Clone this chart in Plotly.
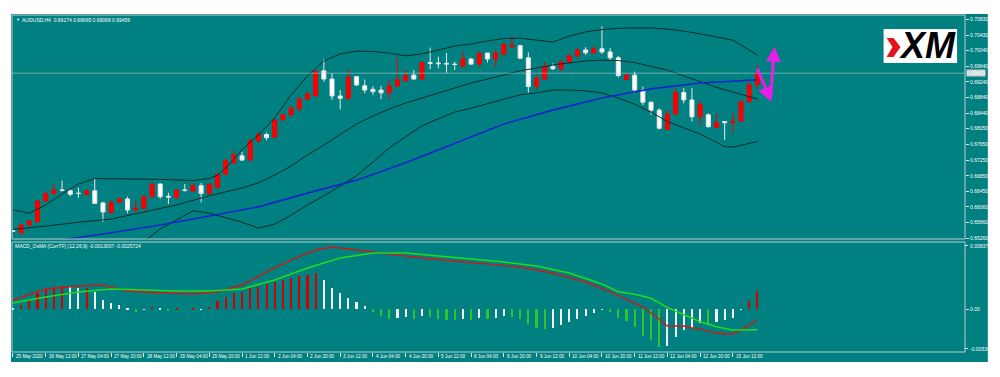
import plotly.graph_objects as go

# ---------------- data ----------------
time_labels = ["25 May 2020", "26 May 12:00", "27 May 04:00", "27 May 20:00", "28 May 12:00",
               "29 May 04:00", "29 May 20:00", "1 Jun 12:00", "2 Jun 04:00", "2 Jun 20:00",
               "3 Jun 12:00", "4 Jun 04:00", "4 Jun 20:00", "5 Jun 12:00", "8 Jun 04:00",
               "8 Jun 20:00", "9 Jun 12:00", "10 Jun 04:00", "10 Jun 20:00", "11 Jun 12:00",
               "12 Jun 04:00", "12 Jun 20:00", "15 Jun 12:00"]
label_bars = [0, 4, 8, 12, 16, 20, 24, 28, 32, 36, 40, 44, 48, 52, 56, 60, 64, 68, 72, 76, 80, 84, 88]

bars = list(range(92))
opens = [0.6545, 0.6540, 0.6560, 0.6568, 0.6621, 0.6640, 0.6649, 0.6647, 0.6641, 0.6638,
         0.6647, 0.6616, 0.6591, 0.6618, 0.6626, 0.6598, 0.6602, 0.6632, 0.6664, 0.6633,
         0.6630, 0.6649, 0.6646, 0.6660, 0.6640, 0.6655, 0.6689, 0.6718, 0.6736, 0.6725,
         0.6774, 0.6790, 0.6783, 0.6827, 0.6840, 0.6855, 0.6880, 0.6888, 0.6952, 0.6931,
         0.6888, 0.6882, 0.6937, 0.6914, 0.6905, 0.6903, 0.6896, 0.6913, 0.6927, 0.6941,
         0.6931, 0.6973, 0.6972, 0.6971, 0.6969, 0.6963, 0.6982, 0.6969, 0.6997, 0.6982,
         0.6994, 0.7013, 0.7016, 0.6985, 0.6913, 0.6931, 0.6963, 0.6957, 0.6975, 0.6990,
         0.7005, 0.6998, 0.7008, 0.7000, 0.6985, 0.6930, 0.6941, 0.6903, 0.6872, 0.6852,
         0.6803, 0.6842, 0.6897, 0.6878, 0.6835, 0.6840, 0.6808, 0.6823, 0.6820, 0.6824,
         0.6874, 0.69174]
highs = [0.6547, 0.6562, 0.6573, 0.6622, 0.6645, 0.6664, 0.6673, 0.6651, 0.6655, 0.6651,
         0.6679, 0.6619, 0.6623, 0.6629, 0.6632, 0.6623, 0.6636, 0.6666, 0.6666, 0.6642,
         0.6651, 0.6664, 0.6666, 0.6667, 0.6666, 0.6691, 0.6730, 0.6751, 0.6746, 0.6780,
         0.6797, 0.6795, 0.6830, 0.6845, 0.6865, 0.6886, 0.6899, 0.6954, 0.6981, 0.6946,
         0.6903, 0.6956, 0.6939, 0.6930, 0.6913, 0.6914, 0.6930, 0.6986, 0.6956, 0.6954,
         0.6975, 0.7011, 0.6988, 0.6997, 0.6975, 0.7001, 0.6985, 0.6999, 0.6998, 0.7005,
         0.7026, 0.7041, 0.7018, 0.6999, 0.6946, 0.6975, 0.6971, 0.6980, 0.6995, 0.7010,
         0.7012, 0.7015, 0.7065, 0.7010, 0.6990, 0.6945, 0.6950, 0.6912, 0.6875, 0.6857,
         0.6852, 0.6909, 0.6908, 0.6908, 0.6874, 0.6844, 0.6844, 0.6823, 0.6844, 0.6875,
         0.6924, 0.69665]
lows = [0.6543, 0.6537, 0.6557, 0.6566, 0.6618, 0.6638, 0.6645, 0.6633, 0.6629, 0.6636,
        0.6613, 0.6568, 0.6589, 0.6615, 0.6590, 0.6597, 0.6600, 0.6630, 0.6626, 0.6613,
        0.6627, 0.6645, 0.6645, 0.6617, 0.6637, 0.6653, 0.6687, 0.6715, 0.6723, 0.6722,
        0.6768, 0.6775, 0.6780, 0.6824, 0.6835, 0.6848, 0.6878, 0.6886, 0.6924, 0.6878,
        0.6854, 0.6878, 0.6913, 0.6895, 0.6891, 0.6880, 0.6880, 0.6912, 0.6924, 0.6929,
        0.6930, 0.6956, 0.6958, 0.6947, 0.6954, 0.6961, 0.6967, 0.6963, 0.6973, 0.6961,
        0.6992, 0.7013, 0.6982, 0.6896, 0.6903, 0.6929, 0.6954, 0.6950, 0.6970, 0.6985,
        0.6992, 0.6995, 0.6995, 0.6978, 0.6935, 0.6928, 0.6895, 0.6865, 0.6840, 0.6803,
        0.6802, 0.6840, 0.6869, 0.6823, 0.6812, 0.6807, 0.6807, 0.6776, 0.6793, 0.6823,
        0.6869, 0.69068]
closes = [0.6544, 0.6560, 0.6570, 0.6621, 0.6640, 0.6649, 0.6648, 0.6638, 0.6640, 0.6647,
          0.6615, 0.6593, 0.6617, 0.6626, 0.6598, 0.6603, 0.6632, 0.6664, 0.6632, 0.6631,
          0.6649, 0.6648, 0.6660, 0.6640, 0.6664, 0.6689, 0.6723, 0.6738, 0.6725, 0.6775,
          0.6790, 0.6782, 0.6826, 0.6840, 0.6857, 0.6880, 0.6893, 0.6950, 0.6931, 0.6888,
          0.6882, 0.6936, 0.6916, 0.6903, 0.6899, 0.6896, 0.6913, 0.6929, 0.6940, 0.6931,
          0.6973, 0.6971, 0.6970, 0.6969, 0.6968, 0.6982, 0.6969, 0.6997, 0.6982, 0.6997,
          0.7019, 0.7018, 0.6984, 0.6912, 0.6933, 0.6963, 0.6957, 0.6975, 0.6990, 0.7005,
          0.6998, 0.7008, 0.7000, 0.6985, 0.6940, 0.6941, 0.6903, 0.6872, 0.6852, 0.6806,
          0.6842, 0.6897, 0.6878, 0.6835, 0.6867, 0.6810, 0.6820, 0.6820, 0.6824, 0.6874,
          0.6916, 0.69459]

# Bollinger bands and moving average read at sample bars
upper_x = [0, 2, 4, 6, 8, 10, 14, 18, 22, 24, 25, 26, 28, 30, 32, 34, 36, 38, 40, 42, 44, 46, 48,
           50, 52, 54, 56, 58, 60, 62, 64, 66, 68, 70, 72, 74, 76, 78, 80, 82, 84, 86, 88, 90, 91]
upper = [0.6598, 0.6590, 0.6611, 0.6639, 0.6664, 0.6678, 0.6677, 0.6676, 0.6673, 0.6678, 0.6687,
         0.6705, 0.6751, 0.6789, 0.6832, 0.6891, 0.6939, 0.6977, 0.6995, 0.7002, 0.7001, 0.6997,
         0.6990, 0.6995, 0.7005, 0.7015, 0.7020, 0.7028, 0.7034, 0.7035, 0.7030, 0.7025, 0.7040,
         0.7051, 0.7057, 0.7060, 0.7061, 0.7061, 0.7058, 0.7053, 0.7046, 0.7038, 0.7030, 0.7005,
         0.6992]
mid_x = [0, 4, 8, 12, 16, 20, 24, 28, 30, 32, 34, 36, 38, 40, 42, 44, 46, 48, 50, 52, 54, 56, 58,
         60, 62, 64, 66, 68, 70, 72, 74, 76, 78, 79, 80, 82, 84, 86, 88, 90, 91]
mid = [0.6549, 0.6557, 0.6567, 0.6575, 0.6593, 0.6611, 0.6634, 0.6654, 0.6667, 0.6687, 0.6710,
       0.6738, 0.6763, 0.6789, 0.6817, 0.6837, 0.6855, 0.6870, 0.6883, 0.6896, 0.6908, 0.6921,
       0.6931, 0.6941, 0.6952, 0.6959, 0.6967, 0.6972, 0.6977, 0.6979, 0.6978, 0.6973, 0.6963,
       0.6958, 0.6954, 0.6939, 0.6924, 0.6910, 0.6898, 0.6885, 0.6880]
lower_x = [16, 18, 20, 22, 24, 26, 28, 30, 32, 34, 36, 38, 40, 42, 44, 46, 48, 50, 52, 54, 56, 58,
           60, 62, 64, 66, 68, 70, 72, 74, 76, 78, 80, 82, 84, 86, 87, 88, 90, 91]
lower = [0.6517, 0.6550, 0.6573, 0.6596, 0.6590, 0.6578, 0.6567, 0.6552, 0.6562, 0.6585, 0.6611,
         0.6634, 0.6659, 0.6685, 0.6720, 0.6756, 0.6784, 0.6812, 0.6830, 0.6847, 0.6857, 0.6868,
         0.6880, 0.6891, 0.6896, 0.6903, 0.6903, 0.6901, 0.6896, 0.6883, 0.6867, 0.6847, 0.6823,
         0.6806, 0.6791, 0.6770, 0.6759, 0.6758, 0.6767, 0.6772]
ma_x = [0, 6, 12, 18, 24, 30, 36, 42, 48, 54, 60, 66, 72, 78, 84, 91]
ma = [0.6491, 0.6522, 0.6540, 0.6560, 0.6583, 0.6606, 0.6641, 0.6674, 0.6718, 0.6768, 0.6817,
      0.6852, 0.6883, 0.6906, 0.6921, 0.6929]

# MACD OsMA histogram (per bar) and colours: r = rising positive, w = fading, g = falling negative
hist = [0.0001, 0.0005, 0.0011, 0.0020, 0.0025, 0.0028, 0.0029, 0.0028, 0.0026, 0.0027,
        0.0022, 0.0012, 0.0008, 0.0005, 0.0001, -0.0003, -0.0001, 0.0003, 0.0001, -0.0002,
        0.0001, 0.0000, 0.0002, -0.0001, 0.0003, 0.0010, 0.0015, 0.0020, 0.0022, 0.0026,
        0.0028, 0.0031, 0.0034, 0.0036, 0.0039, 0.0041, 0.0043, 0.0045, 0.0037, 0.0027,
        0.0020, 0.0014, 0.0009, 0.0004, -0.0004, -0.0009, -0.0012, -0.0011, -0.0010, -0.0012,
        -0.0009, -0.0010, -0.0012, -0.0013, -0.0014, -0.0012, -0.0013, -0.0011, -0.0012, -0.0011,
        -0.0009, -0.0010, -0.0012, -0.0019, -0.0023, -0.0025, -0.0024, -0.0020, -0.0016, -0.0012,
        -0.0009, -0.0005, -0.0001, -0.0003, -0.0011, -0.0015, -0.0022, -0.0033, -0.0039, -0.0047,
        -0.0046, -0.0035, -0.0026, -0.0024, -0.0017, -0.0018, -0.0016, -0.0014, -0.0011, -0.0001,
        0.0010, 0.0023]
hist_col = ["w", "r", "r", "r", "r", "r", "r", "w", "w", "r",
            "w", "w", "w", "w", "w", "g", "w", "r", "w", "g",
            "r", "w", "r", "w", "r", "r", "r", "r", "r", "r",
            "r", "r", "r", "r", "r", "r", "r", "r", "w", "w",
            "w", "w", "w", "w", "g", "g", "g", "w", "w", "g",
            "w", "g", "g", "g", "g", "w", "g", "w", "g", "w",
            "w", "g", "g", "g", "g", "g", "w", "w", "w", "w",
            "w", "w", "w", "g", "g", "g", "g", "g", "g", "g",
            "w", "w", "w", "w", "w", "g", "w", "w", "w", "w",
            "r", "r"]
macd_x = [0, 4, 8, 11, 14, 18, 22, 25, 28, 31, 34, 37, 39, 42, 46, 50, 54, 58, 62, 66, 70, 73, 75,
          77, 79, 80, 82, 83, 84, 85, 87, 88, 89, 90, 91]
macd_v = [0.00115, 0.00252, 0.00289, 0.0030, 0.00227, 0.00202, 0.0019, 0.00214, 0.00302, 0.00464,
          0.00614, 0.00738, 0.00776, 0.00738, 0.00688, 0.00638, 0.00601, 0.00564, 0.00526,
          0.00451, 0.00339, 0.00218, 0.00127, 0.00027, -0.00122, -0.00210, -0.00210, -0.00234,
          -0.00243, -0.0028, -0.00309, -0.00309, -0.00259, -0.0020, -0.0013007]
sig_x = [0, 4, 8, 12, 16, 20, 24, 28, 32, 36, 40, 44, 48, 52, 56, 60, 64, 68, 72, 74, 76, 78, 80,
         82, 84, 86, 88, 91]
sig_v = [0.00077, 0.00152, 0.00214, 0.00252, 0.00239, 0.00227, 0.00227, 0.00252, 0.00364, 0.00514,
         0.00638, 0.00701, 0.00701, 0.00663, 0.00626, 0.00589, 0.00539, 0.00451, 0.00314, 0.00218,
         0.00186, 0.00136, 0.0002, -0.00072, -0.00156, -0.00218, -0.00259, -0.0025724]

price_ticks = [0.70830, 0.70430, 0.70040, 0.69640, 0.69240, 0.68840, 0.68440, 0.68050, 0.67650,
               0.67250, 0.66850, 0.66450, 0.66060, 0.65660, 0.65260]
macd_max_label = "0.008371"
macd_zero_label = "0.00"
macd_min_label = "-0.005344"
last_price = 0.69459
title_main = "AUDUSD,H4  0.69174 0.69665 0.69068 0.69459"
title_macd = "MACD_OsMA [CurrTF] (12,26,9) -0.0013007 -0.0025724"

# ---------------- styling ----------------
TEAL = "#008080"
FRAME = "#b8cccc"
FONT = "Liberation Sans, Arial, sans-serif"
col_map = {"r": "#d40000", "w": "#f2f2f2", "g": "#2fc42f"}

X_RANGE = [-0.12, 116.38]
MAIN_RANGE = [0.65243, 0.70939]
MACD_RANGE = [-0.00534, 0.00838]
MAIN_DOM = [0.3353, 1.0]
MACD_DOM = [0.0, 0.3264]

fig = go.Figure()

for xs, ys in [(upper_x, upper), (mid_x, mid), (lower_x, lower)]:
    fig.add_trace(go.Scatter(x=xs, y=ys, mode="lines", line=dict(color="#0d2b2b", width=1),
                             xaxis="x", yaxis="y", hoverinfo="skip"))
fig.add_trace(go.Scatter(x=ma_x, y=ma, mode="lines", line=dict(color="#1428c8", width=1.6),
                         xaxis="x", yaxis="y", hoverinfo="skip"))

fig.add_trace(go.Candlestick(
    x=bars, open=opens, high=highs, low=lows, close=closes, xaxis="x", yaxis="y",
    increasing=dict(line=dict(color="#f00000", width=1), fillcolor="#ff0000"),
    decreasing=dict(line=dict(color="#e6e6e6", width=1), fillcolor="#ffffff"),
    whiskerwidth=0))

fig.add_trace(go.Bar(x=bars, y=hist, marker=dict(color=[col_map[c] for c in hist_col], line=dict(width=0)),
                     width=0.26, xaxis="x2", yaxis="y2", hoverinfo="skip"))
fig.add_trace(go.Scatter(x=macd_x, y=macd_v, mode="lines", line=dict(color="#cc1a1a", width=1.4),
                         xaxis="x2", yaxis="y2", hoverinfo="skip"))
fig.add_trace(go.Scatter(x=sig_x, y=sig_v, mode="lines", line=dict(color="#1edc1e", width=1.6),
                         xaxis="x2", yaxis="y2", hoverinfo="skip"))

tickfont = dict(family=FONT, size=5, color="#ffffff")
fig.update_layout(
    width=1000, height=377, autosize=False,
    margin=dict(l=12, r=28, t=15, b=25, pad=0),
    paper_bgcolor="#ffffff", plot_bgcolor=TEAL,
    showlegend=False, bargap=0,
    xaxis=dict(domain=[0, 1], range=X_RANGE, anchor="y", showgrid=False, zeroline=False,
               showticklabels=False, ticks="", rangeslider=dict(visible=False), fixedrange=True),
    xaxis2=dict(domain=[0, 1], range=X_RANGE, anchor="y2", showgrid=False, zeroline=False,
                tickmode="array", tickvals=label_bars, showticklabels=False,
                ticks="outside", ticklen=4, tickwidth=1, tickcolor="#dfe8e8"),
    yaxis=dict(domain=MAIN_DOM, range=MAIN_RANGE, side="right", anchor="x", showgrid=False,
               zeroline=False, tickmode="array", tickvals=price_ticks,
               ticktext=[f"{v:.5f}" for v in price_ticks], ticks="outside", ticklen=3,
               tickcolor="#dfe8e8", tickfont=tickfont),
    yaxis2=dict(domain=MACD_DOM, range=MACD_RANGE, side="right", anchor="x2", showgrid=False,
                zeroline=False, tickmode="array", tickvals=[0.0], ticktext=[macd_zero_label],
                ticks="outside", ticklen=3, tickcolor="#dfe8e8", tickfont=tickfont),
)

def px_x(px):
    return (px - 12) / 960.0

def px_y(py):
    return (352 - py) / 337.0

shapes = [
    dict(type="rect", xref="paper", yref="paper", x0=px_x(11), x1=px_x(995), y0=px_y(362), y1=px_y(14),
         fillcolor=TEAL, line=dict(width=0), layer="below"),
    dict(type="rect", xref="paper", yref="paper", x0=0, x1=1, y0=MAIN_DOM[0], y1=MAIN_DOM[1],
         line=dict(color=FRAME, width=1), fillcolor="rgba(0,0,0,0)"),
    dict(type="rect", xref="paper", yref="paper", x0=0, x1=1, y0=MACD_DOM[0], y1=MACD_DOM[1],
         line=dict(color=FRAME, width=1), fillcolor="rgba(0,0,0,0)"),
    dict(type="line", xref="paper", yref="y", x0=0, x1=1, y0=last_price, y1=last_price,
         line=dict(color="rgba(200,210,210,0.55)", width=1)),
    dict(type="rect", xref="paper", yref="paper", x0=px_x(890), x1=px_x(964), y0=px_y(63), y1=px_y(29),
         fillcolor="#ffffff", line=dict(width=0)),
    dict(type="path", xref="paper", yref="paper",
         path=(f"M {px_x(893)},{px_y(38)} L {px_x(900)},{px_y(38)} L {px_x(907)},{px_y(47)} "
               f"L {px_x(900)},{px_y(57)} L {px_x(893)},{px_y(57)} L {px_x(899)},{px_y(47)} Z"),
         fillcolor="#e8141c", line=dict(width=0)),
    dict(type="line", xref="paper", yref="paper", x0=1, x1=1 + 3 / 960, y0=px_y(245.5), y1=px_y(245.5),
         line=dict(color="#dfe8e8", width=1)),
    dict(type="line", xref="paper", yref="paper", x0=1, x1=1 + 3 / 960, y0=px_y(348.5), y1=px_y(348.5),
         line=dict(color="#dfe8e8", width=1)),
]
fig.update_layout(shapes=shapes)

ann = [
    dict(xref="paper", yref="paper", x=px_x(14), y=px_y(20), text="▼", showarrow=False,
         xanchor="left", yanchor="middle", font=dict(family=FONT, size=4, color="#ffffff")),
    dict(xref="paper", yref="paper", x=px_x(20), y=px_y(20), text=title_main, showarrow=False,
         xanchor="left", yanchor="middle", font=dict(family=FONT, size=5, color="#ffffff")),
    dict(xref="paper", yref="paper", x=px_x(13), y=px_y(245.5), text=title_macd, showarrow=False,
         xanchor="left", yanchor="middle", font=dict(family=FONT, size=5, color="#ffffff")),
    dict(xref="paper", yref="paper", x=px_x(975), y=px_y(245.5), text=macd_max_label, showarrow=False,
         xanchor="left", yanchor="middle", font=dict(family=FONT, size=5, color="#ffffff")),
    dict(xref="paper", yref="paper", x=px_x(975), y=px_y(348.5), text=macd_min_label, showarrow=False,
         xanchor="left", yanchor="middle", font=dict(family=FONT, size=5, color="#ffffff")),
    dict(xref="paper", yref="y", x=1.0, y=last_price, text="0.69459", showarrow=False,
         xanchor="left", yanchor="middle", xshift=1, bgcolor="#c8d2d2", borderpad=0,
         font=dict(family=FONT, size=5, color="#ffffff")),
    dict(xref="paper", yref="paper", x=px_x(934), y=px_y(46), text="<b><i>XM</i></b>", showarrow=False,
         xanchor="center", yanchor="middle", font=dict(family=FONT, size=36, color="#000000")),
    dict(xref="x", yref="y", axref="x", ayref="y", x=92.7, y=0.68735, ax=90.9, ay=0.69617,
         showarrow=True, arrowhead=2, arrowsize=1.0, arrowwidth=3, arrowcolor="#e61ee6", text=""),
    dict(xref="x", yref="y", axref="x", ayref="y", x=93.1, y=0.70133, ax=92.6, ay=0.68770,
         showarrow=True, arrowhead=2, arrowsize=1.0, arrowwidth=3, arrowcolor="#e61ee6", text=""),
]
for b, lab in zip(label_bars, time_labels):
    ann.append(dict(xref="x2", yref="paper", x=b, y=px_y(356.5), text=lab, showarrow=False,
                    xanchor="left", yanchor="middle", xshift=1,
                    font=dict(family=FONT, size=4.6, color="#ffffff")))
fig.update_layout(annotations=ann)

fig.write_html("out.html", config={"displayModeBar": False},
               post_script="document.body.style.margin='0';")
